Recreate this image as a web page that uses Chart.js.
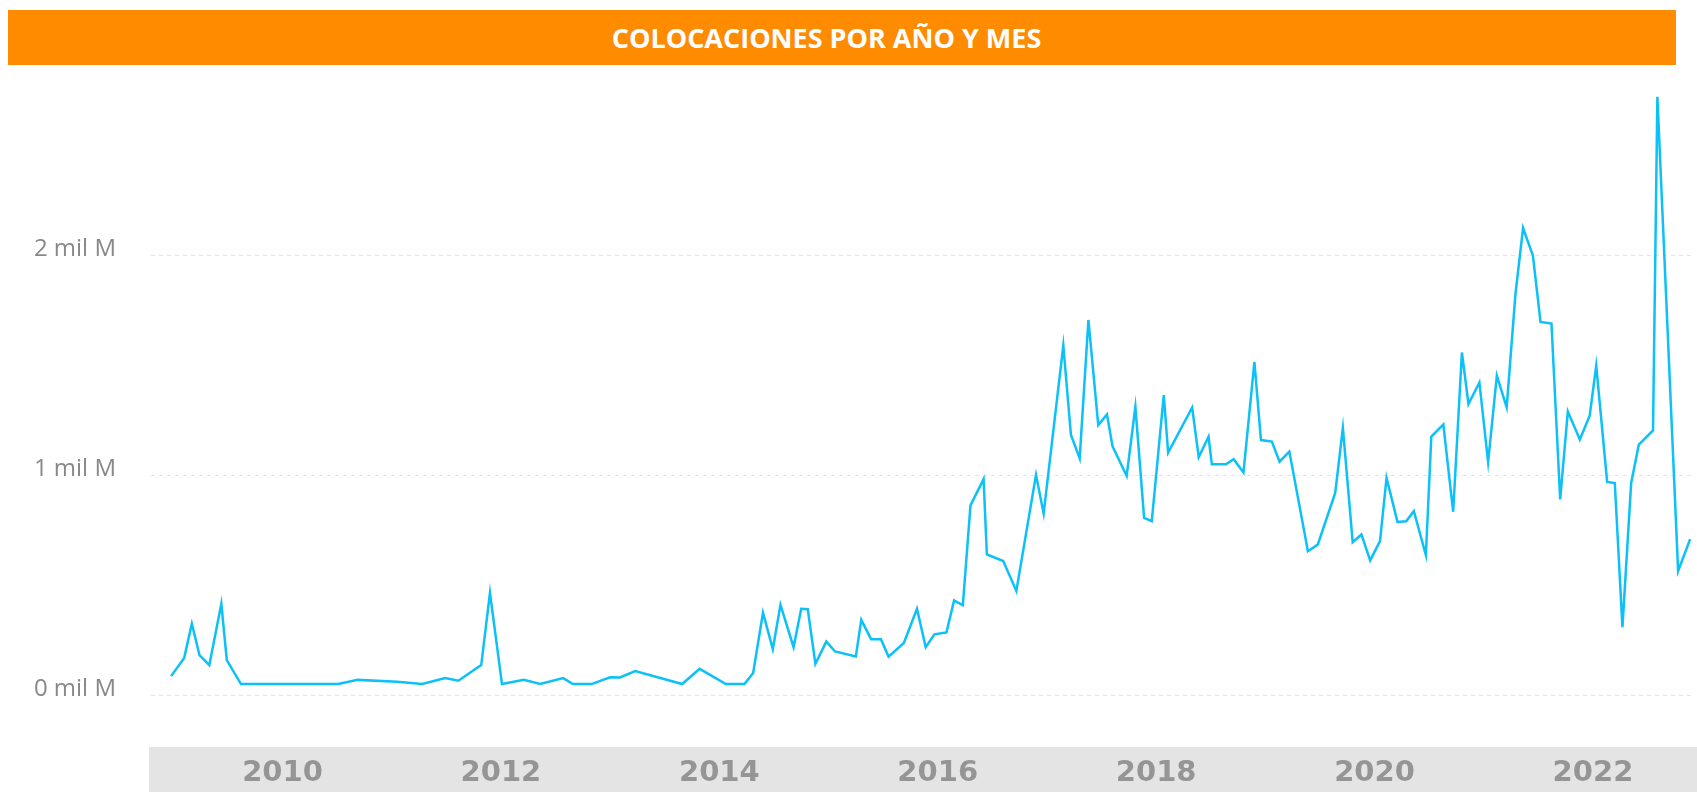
<!DOCTYPE html>
<html lang="es">
<head>
<meta charset="utf-8">
<title>Colocaciones por año y mes</title>
<script src="https://cdn.jsdelivr.net/npm/chart.js@4.4.1/dist/chart.umd.min.js"></script>
<style>
  html, body { margin: 0; padding: 0; background: #ffffff; }
  #wrap { position: relative; width: 1697px; height: 792px; }
  #titulo {
    position: absolute; left: 8px; top: 10px; width: 1637px; height: 55px;
    padding-right: 31px;
    background: #ff8c00; color: #ffffff;
    font: bold 27px "Open Sans", sans-serif;
    line-height: 56px; text-align: center;
  }
  canvas { position: absolute; left: 0; top: 0; }
</style>
</head>
<body>
<div id="wrap">
  <canvas id="myChart" width="1697" height="792"></canvas>
  <div id="titulo">COLOCACIONES POR AÑO Y MES</div>
</div>
<script>
// fecha de cada colocación, en años decimales
const fechas = [
  2008.98, 2009.10, 2009.17, 2009.24, 2009.33, 2009.44, 2009.49, 2009.62,
  2010.51, 2010.69, 2011.05, 2011.28, 2011.49, 2011.61, 2011.82, 2011.90,
  2012.01, 2012.21, 2012.36, 2012.57, 2012.66, 2012.83, 2013.00, 2013.09,
  2013.23, 2013.66, 2013.82, 2014.06, 2014.23, 2014.31, 2014.40, 2014.49,
  2014.56, 2014.68, 2014.75, 2014.81, 2014.88, 2014.98, 2015.06, 2015.25,
  2015.30, 2015.39, 2015.48, 2015.55, 2015.69, 2015.81, 2015.89, 2015.97,
  2016.08, 2016.15, 2016.23, 2016.30, 2016.42, 2016.45, 2016.60, 2016.72,
  2016.90, 2016.97, 2017.15, 2017.22, 2017.30, 2017.38, 2017.47, 2017.55,
  2017.60, 2017.73, 2017.81, 2017.89, 2017.96, 2018.07, 2018.11, 2018.33,
  2018.39, 2018.48, 2018.51, 2018.64, 2018.71, 2018.80, 2018.90, 2018.96,
  2019.06, 2019.13, 2019.22, 2019.39, 2019.48, 2019.64, 2019.71, 2019.80,
  2019.88, 2019.96, 2020.05, 2020.11, 2020.21, 2020.29, 2020.36, 2020.47,
  2020.52, 2020.63, 2020.72, 2020.80, 2020.86, 2020.96, 2021.04, 2021.12,
  2021.21, 2021.29, 2021.36, 2021.45, 2021.52, 2021.62, 2021.70, 2021.77,
  2021.88, 2021.97, 2022.03, 2022.13, 2022.20, 2022.27, 2022.35, 2022.42,
  2022.55, 2022.59, 2022.78, 2022.89
];

// monto colocado, en millones
const colocaciones = [
  88, 171, 326, 183, 138, 417, 161, 52,
  52, 71, 62, 52, 79, 67, 138, 467,
  52, 71, 52, 79, 52, 52, 83, 82,
  111, 52, 121, 52, 52, 102, 377, 211,
  412, 220, 394, 392, 144, 245, 200, 177,
  344, 256, 256, 177, 239, 394, 220, 278,
  287, 432, 410, 864, 983, 641, 611, 475,
  1003, 827, 1591, 1184, 1078, 1707, 1229, 1278,
  1134, 998, 1312, 807, 792, 1365, 1104, 1309,
  1083, 1176, 1051, 1051, 1074, 1014, 1516, 1161,
  1154, 1063, 1109, 656, 686, 921, 1217, 697,
  732, 614, 702, 989, 789, 792, 838, 638,
  1177, 1232, 835, 1559, 1325, 1423, 1061, 1454,
  1310, 1823, 2125, 2000, 1698, 1691, 891, 1291,
  1164, 1272, 1499, 971, 966, 311, 966, 1140,
  1205, 2721, 566, 711
];

const aniosEje = [2010, 2012, 2014, 2016, 2018, 2020, 2022];
const marcasY = [0, 1000, 2000];

const puntos = fechas.map((f, i) => ({ x: f, y: colocaciones[i] }));

// franja gris detrás de los años
const franjaEje = {
  id: "franjaEje",
  beforeDraw(chart) {
    const ctx = chart.ctx;
    ctx.save();
    ctx.fillStyle = "#e4e4e4";
    ctx.fillRect(149, 747, chart.width - 149, chart.height - 747);
    ctx.restore();
  },
};

const ctx = document.getElementById("myChart").getContext("2d");

window.myChart = new Chart(ctx, {
  type: "line",
  data: {
    datasets: [
      {
        label: "Colocaciones",
        data: puntos,
        borderColor: "#0bc1f7",
        borderWidth: 2.5,
        borderJoinStyle: "miter",
        pointRadius: 0,
        tension: 0,
        fill: false,
      },
    ],
  },
  options: {
    responsive: false,
    animation: false,
    layout: { padding: { top: 90.5, right: 5, left: 0, bottom: 0 } },
    plugins: {
      legend: { display: false },
      tooltip: { enabled: false },
    },
    scales: {
      x: {
        type: "linear",
        min: 2008.796,
        max: 2022.907,
        afterBuildTicks: (scale) => {
          scale.ticks = aniosEje.map((v) => ({ value: v }));
        },
        afterFit: (scale) => {
          scale.height = 96.5;
        },
        grid: { display: false, drawTicks: false },
        border: { display: false },
        ticks: {
          padding: 61,
          maxRotation: 0,
          autoSkip: false,
          color: "#959595",
          font: { family: "DejaVu Sans", size: 29, weight: "bold" },
          callback: (v) => String(v),
        },
      },
      y: {
        min: 0,
        max: 2750,
        afterBuildTicks: (scale) => {
          scale.ticks = marcasY.map((v) => ({ value: v }));
        },
        afterFit: (scale) => {
          scale.width = 151;
        },
        grid: {
          color: "#e3e3e3",
          lineWidth: 1,
          drawTicks: false,
        },
        border: { display: false, dash: [4, 4] },
        ticks: {
          padding: 35,
          labelOffset: -6,
          color: "#888888",
          font: { family: "Open Sans", size: 24, weight: "normal" },
          callback: (v) => v / 1000 + " mil M",
        },
      },
    },
  },
  plugins: [franjaEje],
});
</script>
</body>
</html>
